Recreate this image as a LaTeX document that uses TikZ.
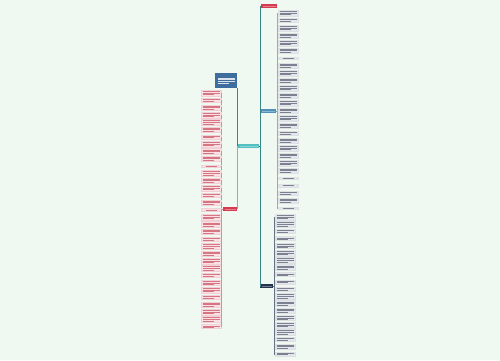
\documentclass[tikz,border=0pt]{standalone}
\usetikzlibrary{positioning}

\definecolor{bgmint}{HTML}{F0F9F1}
\definecolor{rootteal}{HTML}{52BFC0}
\definecolor{hubred}{HTML}{D63A4E}
\definecolor{hubblue}{HTML}{4F8FB8}
\definecolor{hubnavy}{HTML}{24344F}
\definecolor{leafpink}{HTML}{FBE1E6}
\definecolor{leafred}{HTML}{C8485A}
\definecolor{leafgray}{HTML}{E3E7ED}
\definecolor{leafink}{HTML}{5A6272}
\definecolor{imgblue}{HTML}{3D6E9E}

% text-like strokes (the reference text is too small to read)
\newcommand\tlines[1]{\vbox{\offinterlineskip\foreach\k in {1,...,#1}{%
  \ifnum\k<#1 \hrule width 0.34cm height 0.28pt\vskip 0.62pt
  \else\hrule width 0.22cm height 0.28pt\fi}}}
\newcommand\tl[1]{\rule{#1}{0.3pt}}

\tikzset{
  hub/.style={fill=#1, text=white!35!#1, inner sep=0.8pt, minimum height=0.09cm},
  pinkleaf/.style={draw=leafred!25, fill=leafpink, text=leafred!75, inner sep=0.55pt,
    minimum width=0.4cm, line width=0.2pt},
  grayleaf/.style={draw=leafink!20, fill=leafgray, text=leafink!80, inner sep=0.55pt,
    minimum width=0.4cm, line width=0.2pt},
  redline/.style={draw=hubred!60, line width=0.3pt},
  blueline/.style={draw=hubblue!70, line width=0.3pt},
  navyline/.style={draw=hubnavy!70, line width=0.3pt},
  trunk/.style={draw=rootteal!70!black, line width=0.35pt}
}

\begin{document}
\begin{tikzpicture}[x=0.02cm,y=-0.02cm]
    \fill[bgmint] (0,0) rectangle (500,360);
    \useasboundingbox (0,0) rectangle (500,360);

    % centre and first level
    \node[hub=rootteal, minimum width=0.42cm] (root) at (248.5,146) {\tl{0.36cm}};
    \node[fill=imgblue, text=white!80!imgblue, minimum width=0.44cm, minimum height=0.29cm,
      inner sep=0.5pt] (img) at (226,80.5) {\tlines{4}};
    \node[hub=hubred, minimum width=0.28cm] (lred) at (230,209) {\tl{0.22cm}};
    \node[hub=hubred, minimum width=0.32cm] (tred) at (269,6) {\tl{0.26cm}};
    \node[hub=hubblue, minimum width=0.32cm] (blue) at (268,111) {\tl{0.26cm}};
    \node[hub=hubnavy, minimum width=0.26cm] (navy) at (266.5,286) {\tl{0.2cm}};

    \coordinate (rj) at (260,146);
    \draw[trunk] (root.west) -| (img.south east);
    \draw[redline] (root.west) -| (lred.east);
    \draw[trunk] (root.east) -- (rj) |- (tred.west);
    \draw[trunk] (rj) |- (blue.west);
    \draw[trunk] (rj) |- (navy.west);

    % left branch
    \foreach \n [count=\i] in {3,2,3,3,3,3,2,3,3,3,1,3,3,3,2,3,1,3,3,3,2,3,3,3,3,2,3,3,2,3,3,3,2} {
        \node[pinkleaf] (l\i) at (211,{93+(\i-1)*7.3}) {\tlines{\n}};
        \draw[redline] (lred.west) -- ++(-1,0) |- (l\i.east);
    }

    % right branch, blue
    \foreach \n [count=\i] in {3,2,3,3,3,3,1,3,3,3,3,3,3,3,3,3,2,3,3,3,3,3,1,1,2,3,1} {
        \node[grayleaf] (b\i) at (288,{13+(\i-1)*7.5}) {\tlines{\n}};
        \draw[blueline] (blue.east) -- ++(1,0) |- (b\i.west);
    }

    % right branch, navy
    \foreach \n [count=\i] in {3,3,2,2,3,3,3,3,2,2,2,3,3,3,3,3,3,2,3,2} {
        \node[grayleaf] (n\i) at (285,{217+(\i-1)*7.2}) {\tlines{\n}};
        \draw[navyline] (navy.east) -- ++(1,0) |- (n\i.west);
    }
\end{tikzpicture}
\end{document}
